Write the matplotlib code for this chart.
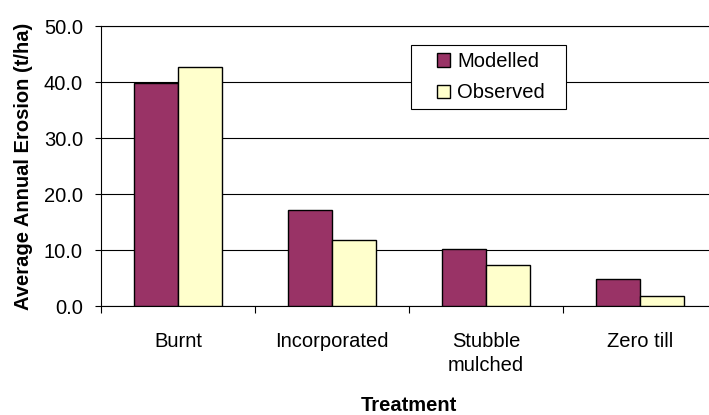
import numpy as np
import matplotlib
matplotlib.use("Agg")
import matplotlib.pyplot as plt
from matplotlib.patches import Rectangle
from matplotlib.legend_handler import HandlerPatch

plt.rcParams['font.family'] = ['Liberation Sans', 'DejaVu Sans']

categories = ['Burnt', 'Incorporated', 'Stubble\nmulched', 'Zero till']
modelled = [39.8, 17.1, 10.1, 4.8]
observed = [42.7, 11.7, 7.3, 1.8]
yticks = [0, 10, 20, 30, 40, 50]

fs = 14.5
W, H = 709, 415
c_mod, c_obs = '#993366', '#FFFFCC'

fig = plt.figure(figsize=(W / 100, H / 100), dpi=100)
ax = fig.add_axes([101 / W, 1 - 306 / H, 616 / W, 280 / H])

x = np.arange(len(categories))
bw = 0.287
ax.bar(x - bw, modelled, bw, align='edge', color=c_mod, edgecolor='black',
       linewidth=1, zorder=3)
ax.bar(x, observed, bw, align='edge', color=c_obs, edgecolor='black',
       linewidth=1, zorder=3)

ax.set_xlim(-0.5, len(categories) - 0.5)
ax.set_ylim(0, 50)
ax.set_yticks(yticks)
ax.set_yticklabels([f"{v:.1f}" for v in yticks], fontsize=fs)
ax.yaxis.grid(True, color='black', linewidth=0.8, zorder=0)
ax.set_axisbelow(True)

ax.set_xticks(x)
ax.set_xticklabels(categories, fontsize=fs, linespacing=1.35)
ax.set_xticks(np.arange(len(categories) + 1) - 0.5, minor=True)
ax.tick_params(axis='x', which='major', length=0, pad=18.5)
ax.tick_params(axis='x', which='minor', length=5, width=0.8, direction='out')
ax.tick_params(axis='y', length=4, width=0.8, direction='out', pad=9)

for s in ['left', 'bottom', 'top']:
    ax.spines[s].set_color('black')
    ax.spines[s].set_linewidth(0.8)
ax.spines['right'].set_visible(False)

ax.set_ylabel('Average Annual Erosion (t/ha)', fontsize=fs, fontweight='bold', labelpad=8)
ax.set_xlabel('Treatment', fontsize=fs, fontweight='bold', labelpad=15.5)


# square legend keys, pushed to the right of the handle area
def square_key(legend, orig_handle, xdescent, ydescent, width, height, fontsize):
    size = 0.65 * fontsize
    return Rectangle((-xdescent + width - size, -ydescent + (height - size) / 2), size, size)


handles = [Rectangle((0, 0), 1, 1, facecolor=c_mod, edgecolor='black', linewidth=1),
           Rectangle((0, 0), 1, 1, facecolor=c_obs, edgecolor='black', linewidth=1)]
labels = ['Modelled', 'Observed']

lx0, ly1 = 411 / W, 1 - 45 / H
lw_ = 155 / W
leg = ax.legend(handles, labels, loc='upper left',
                bbox_to_anchor=(lx0, ly1 - 0.2, lw_, 0.2),
                bbox_transform=fig.transFigure, mode='expand',
                borderaxespad=0, borderpad=0.35, fontsize=fs,
                handlelength=1.6, handleheight=0.65, handletextpad=0.33,
                labelspacing=0.6, fancybox=False, framealpha=1,
                edgecolor='black',
                handler_map={Rectangle: HandlerPatch(patch_func=square_key)})
leg.get_frame().set_linewidth(0.8)

fig.savefig('out.png', dpi=100)
